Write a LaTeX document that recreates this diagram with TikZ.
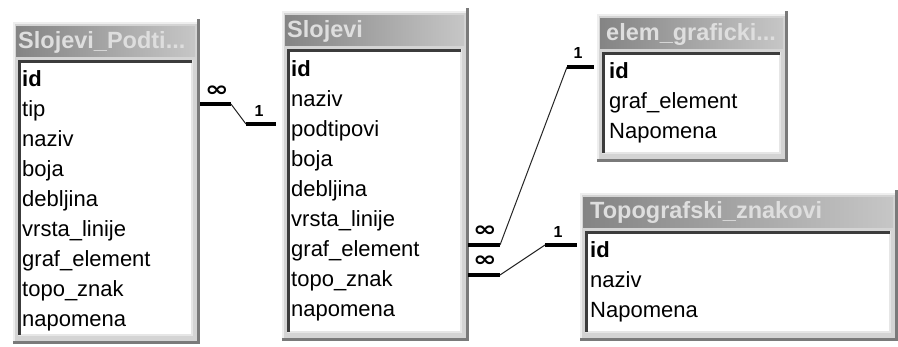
\documentclass[tikz,border=0pt]{standalone}
\usepackage{fontspec}
\usepackage{graphicx}
\setmainfont{Liberation Sans}
\newfontfamily\symfnt{DejaVu Sans}
\definecolor{framebg}{HTML}{D4D4D4}
\definecolor{framehi}{HTML}{EEEEEE}
\definecolor{framedark}{HTML}{7A7A7A}
\definecolor{titleL}{HTML}{848484}
\definecolor{titleR}{HTML}{C6C6C6}
\definecolor{titletext}{HTML}{DEDEDE}
\definecolor{innerdark}{HTML}{3C3C3C}
\definecolor{innerlight}{HTML}{E6E6E6}
\newcommand\acctbl[4]{% left, right, frame top, frame bottom
  \fill[framebg] (#1,#3) rectangle (#2,#4);
  \draw[framehi, line width=1.5pt] (#1+0.75,#4) -- (#1+0.75,#3+0.75) -- (#2,#3+0.75);
  \draw[framedark, line width=3pt] (#2-1.5,#3-3) -- (#2-1.5,#4-1.5) -- (#1,#4-1.5);
  \shade[left color=titleL, right color=titleR] (#1+3,#3+4) rectangle (#2-5,#3+34);
  \fill[white] (#1+5,#3+38) rectangle (#2-7,#4-8);
  \draw[innerlight, line width=2pt] (#1+5,#4-9) -- (#2-8,#4-9) -- (#2-8,#3+38);
  \draw[innerdark, line width=2.5pt] (#1+6.25,#4-9) -- (#1+6.25,#3+39.25) -- (#2-8,#3+39.25);
}
\tikzset{
  fld/.style={font=\fontsize{22}{26}\selectfont, inner sep=0pt, anchor=west, text height=16pt, text depth=4pt},
  ttl/.style={font=\fontsize{23.5}{27}\selectfont\bfseries, text=titletext, inner sep=0pt, anchor=west, text height=16pt, text depth=4pt},
  thickln/.style={line width=3.5pt, black},
  thinln/.style={line width=1pt, black!85},
  onelbl/.style={font=\fontsize{16}{18}\selectfont\bfseries, inner sep=0pt},
  manylbl/.style={font=\fontsize{21}{23}\selectfont\symfnt\bfseries, inner sep=0pt}
}
\begin{document}
\begin{tikzpicture}[x=1pt, y=-1pt]
\useasboundingbox (0,0) rectangle (898,346);
\fill[white] (0,0) rectangle (898,346);

% Table 1
\acctbl{13}{200}{22}{344}
\node[ttl] (t1) at (18,42) {Slojevi\_Podti...};
\foreach [count=\i from 0] \f in {\textbf{id}, tip, naziv, boja, debljina, vrsta\_linije, graf\_element, topo\_znak, napomena}
  \node[fld] (t1f\i) at (22,{80+30*\i}) {\f};

% Table 2
\acctbl{282}{469}{11}{341}
\node[ttl] (t2) at (287,31) {Slojevi};
\foreach [count=\i from 0] \f in {\textbf{id}, naziv, podtipovi, boja, debljina, vrsta\_linije, graf\_element, topo\_znak, napomena}
  \node[fld] (t2f\i) at (291,{70+30.1*\i}) {\f};

% Table 3
\acctbl{597}{788}{14}{162}
\node[ttl] (t3) at (606,34) {elem\_graficki...};
\foreach [count=\i from 0] \f in {\textbf{id}, graf\_element, Napomena}
  \node[fld] (t3f\i) at (609,{72+30*\i}) {\f};

% Table 4
\acctbl{580}{898}{193}{341}
\node[ttl] (t4) at (590,212) {Topografski\_znakovi};
\foreach [count=\i from 0] \f in {\textbf{id}, naziv, Napomena}
  \node[fld] (t4f\i) at (590,{251+30*\i}) {\f};

% Relationship 1: Slojevi_Podti... (many) -- Slojevi (one)
\coordinate (r1a) at (200,104);
\coordinate (r1b) at (231,104);
\coordinate (r1c) at (246,124);
\coordinate (r1d) at (276,124);
\draw[thickln] (r1a) -- (r1b);
\draw[thinln] (r1b) -- (r1c);
\draw[thickln] (r1c) -- (r1d);
\node[manylbl] (r1m) at (217,91) {\scalebox{1.35}[1]{∞}};
\node[onelbl] (r1o) at (259,111) {1};

% Relationship 2: Slojevi.graf_element (many) -- elem_graficki (one)
\coordinate (r2a) at (468,245);
\coordinate (r2b) at (500,245);
\coordinate (r2c) at (567,67);
\coordinate (r2d) at (594,67);
\draw[thickln] (r2a) -- (r2b);
\draw[thinln] (r2b) -- (r2c);
\draw[thickln] (r2c) -- (r2d);
\node[manylbl] (r2m) at (485,231) {\scalebox{1.35}[1]{∞}};
\node[onelbl] (r2o) at (578,53) {1};

% Relationship 3: Slojevi.topo_znak (many) -- Topografski_znakovi (one)
\coordinate (r3a) at (468,275);
\coordinate (r3b) at (500,275);
\coordinate (r3c) at (545,245);
\coordinate (r3d) at (577,245);
\draw[thickln] (r3a) -- (r3b);
\draw[thinln] (r3b) -- (r3c);
\draw[thickln] (r3c) -- (r3d);
\node[manylbl] (r3m) at (485,261) {\scalebox{1.35}[1]{∞}};
\node[onelbl] (r3o) at (558,232) {1};
\end{tikzpicture}
\end{document}
